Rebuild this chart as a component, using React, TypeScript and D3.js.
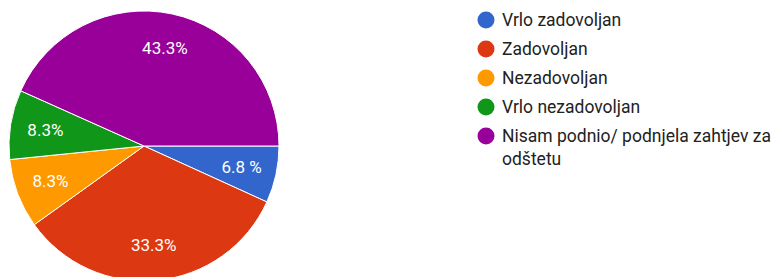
import { useEffect, useRef } from "react";
import * as d3 from "d3";

const CATEGORIES = [
  "Vrlo zadovoljan",
  "Zadovoljan",
  "Nezadovoljan",
  "Vrlo nezadovoljan",
  "Nisam podnio/ podnjela zahtjev za odštetu",
];
const VALUES = [6.8, 33.3, 8.3, 8.3, 43.3];
const SLICE_LABELS = ["6.8 %", "33.3%", "8.3%", "8.3%", "43.3%"];
const COLORS = ["#3366cc", "#dc3912", "#ff9900", "#109618", "#990099"];

// legend lines: long label wraps onto a second line like the original
const LEGEND_LINES: string[][] = [
  ["Vrlo zadovoljan"],
  ["Zadovoljan"],
  ["Nezadovoljan"],
  ["Vrlo nezadovoljan"],
  ["Nisam podnio/ podnjela zahtjev za", "odštetu"],
];

const W = 779;
const H = 277;
const FONT = "Roboto, Arial, sans-serif";

export default function App() {
  const svgRef = useRef<SVGSVGElement>(null);

  useEffect(() => {
    if (!svgRef.current) return;
    const svg = d3.select(svgRef.current);
    svg.selectAll("*").remove();

    const cx = 144;
    const cy = 146;
    const R = 135;

    const pie = d3
      .pie<number>()
      .sort(null)
      .value((d) => d)
      .startAngle(Math.PI / 2)
      .endAngle(Math.PI / 2 + 2 * Math.PI);
    const arcs = pie(VALUES);

    const arc = d3.arc<d3.PieArcDatum<number>>().innerRadius(0).outerRadius(R);
    const labelArc = d3
      .arc<d3.PieArcDatum<number>>()
      .innerRadius(R * 0.74)
      .outerRadius(R * 0.74);

    const g = svg.append("g").attr("transform", `translate(${cx},${cy})`);

    g.selectAll("path.slice")
      .data(arcs)
      .enter()
      .append("path")
      .attr("class", "slice")
      .attr("d", arc)
      .attr("fill", (_d, i) => COLORS[i])
      .attr("stroke", "#fff")
      .attr("stroke-width", 1);

    g.selectAll("text.pct")
      .data(arcs)
      .enter()
      .append("text")
      .attr("class", "pct")
      .attr("transform", (d) => `translate(${labelArc.centroid(d)})`)
      .attr("text-anchor", "middle")
      .attr("dominant-baseline", "central")
      .attr("fill", "#fff")
      .attr("font-family", FONT)
      .attr("font-size", "17px")
      .text((_d, i) => SLICE_LABELS[i]);

    // Legend
    const lx = 486;
    const ly = 20;
    const rowH = 29;
    const legend = svg.append("g");
    CATEGORIES.forEach((_c, i) => {
      const row = legend.append("g").attr("transform", `translate(${lx},${ly + i * rowH})`);
      row.append("circle").attr("r", 8.5).attr("fill", COLORS[i]);
      LEGEND_LINES[i].forEach((line, j) => {
        row
          .append("text")
          .attr("x", 16)
          .attr("y", j * 23)
          .attr("dominant-baseline", "central")
          .attr("fill", "#222")
          .attr("font-family", FONT)
          .attr("font-size", "17.5px")
          .text(line);
      });
    });
  }, []);

  return (
    <div style={{ position: "fixed", left: 0, top: 0, background: "#fff" }}>
      <svg ref={svgRef} width={W} height={H} style={{ display: "block" }} />
    </div>
  );
}
